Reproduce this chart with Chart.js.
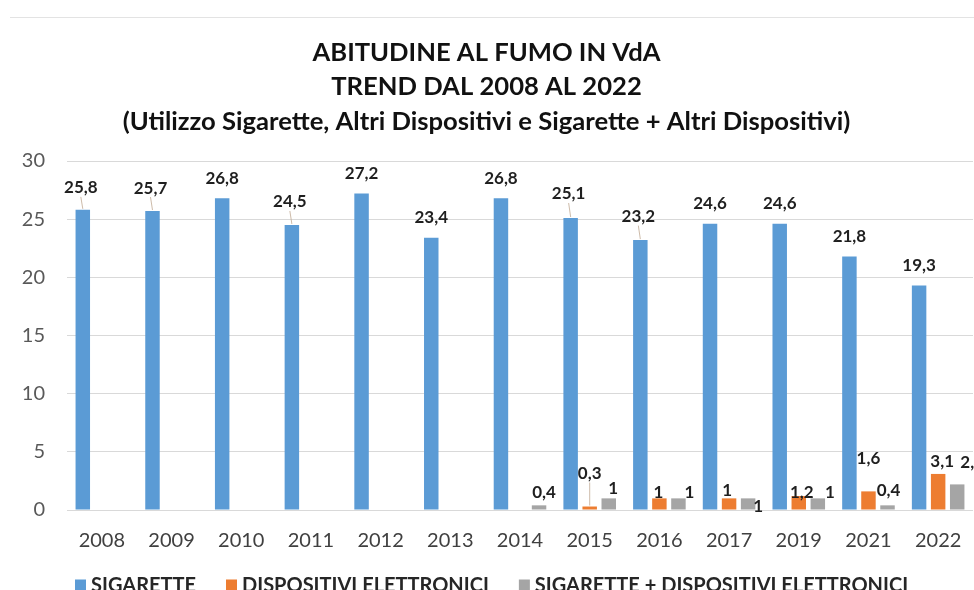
<!DOCTYPE html>
<html><head><meta charset="utf-8">
<script src="https://cdn.jsdelivr.net/npm/chart.js@4.4.0/dist/chart.umd.min.js"></script>
<style>
html,body{margin:0;padding:0;background:#fff;overflow:hidden;width:974px;height:590px;}
#wrap{position:relative;width:974px;height:600px;}
#sep{position:absolute;left:10px;top:17px;width:964px;height:1px;background:#e3e3e3;}
canvas{position:absolute;left:0;top:0;}
</style></head><body>
<div id="wrap"><div id="sep"></div><canvas id="c" width="974" height="600"></canvas></div>
<script>
// ---- DATA ----
const categories = ['2008','2009','2010','2011','2012','2013','2014','2015','2016','2017','2019','2021','2022'];
const sigarette = [25.8, 25.7, 26.8, 24.5, 27.2, 23.4, 26.8, 25.1, 23.2, 24.6, 24.6, 21.8, 19.3];
const dispositiviElettronici = [null, null, null, null, null, null, null, 0.3, 1, 1, 1.2, 1.6, 3.1];
const sigarettePiuDispositivi = [null, null, null, null, null, null, 0.4, 1, 1, 1, 1, 0.4, 2.2];
const seriesNames = ['SIGARETTE', 'DISPOSITIVI ELETTRONICI', 'SIGARETTE + DISPOSITIVI ELETTRONICI'];
const yTickValues = [0, 5, 10, 15, 20, 25, 30];
const titleLines = ['ABITUDINE AL FUMO IN VdA', 'TREND DAL 2008 AL 2022', '(Utilizzo Sigarette, Altri Dispositivi e Sigarette + Altri Dispositivi)'];

// ---- STYLE ----
const colors = ['#5B9BD5', '#ED7D31', '#A5A5A5'];
const FONT = 'Lato, "Open Sans", sans-serif';
// label placement tweaks: key "dataset-index" -> [dx, distance above bar top, leader line]
const labelNudge = {
  '0-0': [-2, 22, true], '0-1': [-2, 23, true], '0-3': [-2, 23, true], '0-7': [-2, 24, true], '0-8': [-2, 23.5, true],
  '2-6': [5, 13], '1-7': [0, 33, true], '2-7': [4.5, 10], '1-8': [-1, 6], '2-8': [11, 6],
  '1-9': [-2, 8], '2-9': [10, -8], '1-10': [3, 4], '2-10': [12, 6], '1-11': [0, 33], '2-11': [1, 15],
  '1-12': [4, 12], '2-12': [15, 22]
};

const mctx = document.createElement('canvas').getContext('2d');
mctx.font = 'bold 100px ' + FONT;
let titleSize = 100 * 728 / mctx.measureText(titleLines[2]).width;
if (!isFinite(titleSize) || titleSize < 14 || titleSize > 32) titleSize = 23;

const fmt = v => String(v).replace('.', ',');

const labelPlugin = {
  id: 'barLabels',
  afterDatasetsDraw(chart) {
    const ctx = chart.ctx;
    ctx.save();
    ctx.font = 'bold 17px ' + FONT;
    ctx.textAlign = 'center';
    ctx.textBaseline = 'middle';
    chart.data.datasets.forEach((ds, di) => {
      const meta = chart.getDatasetMeta(di);
      meta.data.forEach((el, i) => {
        const v = ds.data[i];
        if (v === null || v === undefined) return;
        const n = labelNudge[di + '-' + i] || [0, 20, false];
        const lx = el.x + n[0];
        const ly = el.y - n[1];
        if (n[2]) {
          ctx.strokeStyle = 'rgba(200,180,160,0.9)';
          ctx.lineWidth = 1;
          ctx.beginPath();
          ctx.moveTo(lx, ly + 9);
          ctx.lineTo(el.x, el.y - 1);
          ctx.stroke();
        }
        ctx.fillStyle = '#1f1f1f';
        ctx.fillText(fmt(v), lx, ly);
      });
    });
    ctx.restore();
  }
};

// legend drawn below the axis (bottom half falls outside the window, as in the reference)
const legendPlugin = {
  id: 'customLegend',
  afterDraw(chart) {
    const ctx = chart.ctx;
    ctx.save();
    ctx.font = 'bold 20px ' + FONT;
    ctx.textBaseline = 'middle';
    const box = 11, textGap = 5, itemGap = 30;
    let x = 75;
    const cy = 586;
    chart.data.datasets.forEach((d) => {
      ctx.fillStyle = d.backgroundColor;
      ctx.fillRect(x, cy - box / 2 - 1, box, box);
      ctx.fillStyle = '#262626';
      ctx.fillText(d.label, x + box + textGap, cy);
      x += box + textGap + ctx.measureText(d.label).width + itemGap;
    });
    ctx.restore();
  }
};

new Chart(document.getElementById('c'), {
  type: 'bar',
  data: {
    labels: categories,
    datasets: [
      { label: seriesNames[0], data: sigarette, backgroundColor: colors[0] },
      { label: seriesNames[1], data: dispositiviElettronici, backgroundColor: colors[1] },
      { label: seriesNames[2], data: sigarettePiuDispositivi, backgroundColor: colors[2] }
    ]
  },
  options: {
    responsive: false,
    animation: false,
    devicePixelRatio: 1,
    categoryPercentage: 0.82,
    barPercentage: 0.76,
    layout: { padding: { left: 0, right: 1, top: 0, bottom: 49 } },
    plugins: {
      tooltip: { enabled: false },
      title: {
        display: true,
        text: titleLines,
        color: '#111',
        font: { family: FONT, weight: 'bold', size: titleSize, lineHeight: '34.5px' },
        padding: { top: 35, bottom: 22.5 }
      },
      legend: { display: false }
    },
    scales: {
      x: {
        grid: { display: false },
        border: { display: false },
        ticks: { color: '#404040', font: { family: FONT, size: 20 }, padding: 11, maxRotation: 0 },
        afterFit(s) { s.height = 41; }
      },
      y: {
        min: 0, max: 30,
        afterBuildTicks(s) { s.ticks = yTickValues.map(v => ({ value: v })); },
        grid: { color: '#d9d9d9', drawTicks: false },
        border: { display: false },
        ticks: { color: '#595959', font: { family: FONT, size: 20 }, padding: 22 },
        afterFit(s) { s.width = 67; }
      }
    }
  },
  plugins: [labelPlugin, legendPlugin]
});
</script>
</body></html>
